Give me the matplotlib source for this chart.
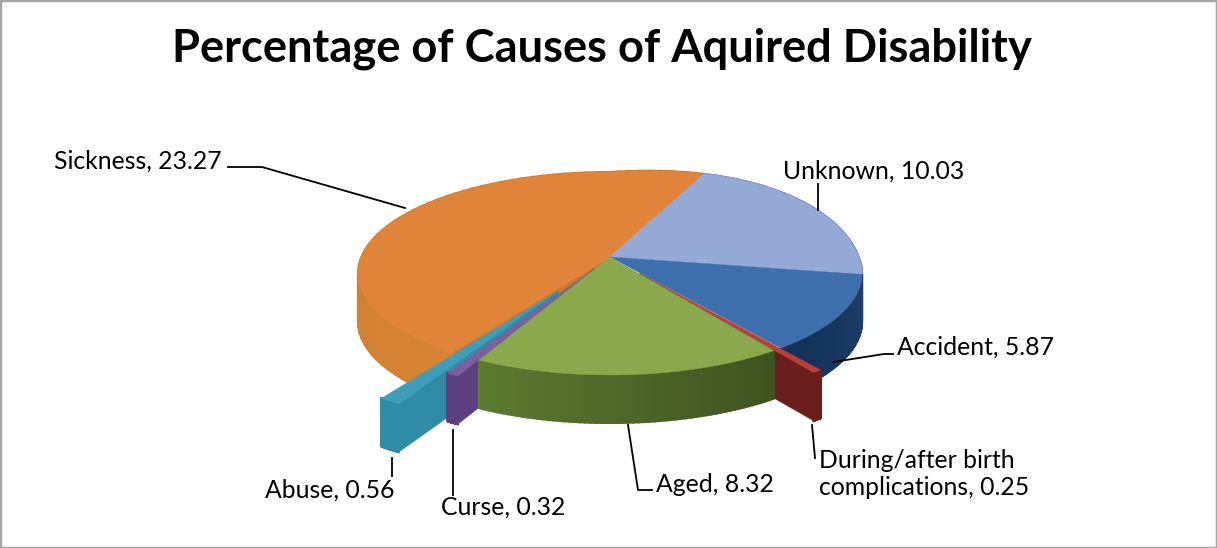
import numpy as np
import matplotlib
matplotlib.use('Agg')
import matplotlib.pyplot as plt
from matplotlib.patches import Rectangle

# datos del grafico
causas = ['Unknown', 'Accident', 'During/after birth\ncomplications', 'Aged', 'Curse', 'Abuse', 'Sickness']
valores = [10.03, 5.87, 0.25, 8.32, 0.32, 0.56, 23.27]
explode = [0, 0, 0.2, 0, 0.13, 0.38, 0]
titulo = 'Percentage of Causes of Aquired Disability'

col_top = ['#94A9D5', '#3F70AE', '#BC3E3B', '#89A94C', '#7F5EA0', '#3D9DBA', '#DF8439']
col_lado1 = ['#7C90BC', '#1F4068', '#6B1F1C', '#3F5220', '#5C3F80', '#2F8BA6', '#D68335']
col_lado2 = ['#7C90BC', '#12305A', '#6B1F1C', '#5D7A30', '#5C3F80', '#2F8BA6', '#C97A30']

# geometria del pastel en pixeles de la imagen
cx, cy = 610, 257
R, S, k = 248.7, 98.8, 0.1626
alto = 48
inicio = 64.4
giro = 14  # la parte de atras a la derecha sube un poco


def proy(u, v, dy=0):
    # circulo unitario a pantalla con perspectiva
    d = 1 + k * v
    return cx + R * u / d, cy - S * v / d + dy - giro * np.clip(u, 0, None) * np.clip(v, 0, None)


def borde(a1, a2, e, am, n=60):
    # puntos del arco del trozo, desplazado e en la direccion am
    a = np.radians(np.linspace(a1, a2, n))
    u = np.cos(a) + e * np.cos(np.radians(am))
    v = np.sin(a) + e * np.sin(np.radians(am))
    return u, v


def mezcla(c1, c2, t):
    a = np.array(matplotlib.colors.to_rgb(c1))
    b = np.array(matplotlib.colors.to_rgb(c2))
    return a + (b - a) * t


fig = plt.figure(figsize=(12.17, 5.48), dpi=100)
ax = fig.add_axes([0, 0, 1, 1])
ax.set_xlim(0, 1217)
ax.set_ylim(548, 0)
ax.axis('off')

angulos = 360 * np.array(valores) / sum(valores)
fin = inicio - np.cumsum(angulos)
ini = fin + angulos

# orden de dibujo: de atras hacia adelante
orden = [6, 0, 1, 2, 5, 4, 3]
for i in orden:
    a1, a2 = ini[i], fin[i]
    am = (a1 + a2) / 2
    e = explode[i]
    u, v = borde(a1, a2, e, am)
    u0 = e * np.cos(np.radians(am))
    v0 = e * np.sin(np.radians(am))

    # cara radial que mira al frente: trozos separados y el borde de Sickness
    if e > 0 or i == 6:
        if i == 2:
            uc, vc = u[-1], v[-1]
        else:
            uc, vc = u[0], v[0]
        x1, y1 = proy(u0, v0)
        x2, y2 = proy(uc, vc)
        ax.fill([x1, x2, x2, x1], [y1, y2, y2 + alto, y1 + alto],
                color=col_lado2[i], lw=0.5)

    # pared exterior por segmentos con degradado
    x, y = proy(u, v)
    for j in range(len(x) - 1):
        c = mezcla(col_lado1[i], col_lado2[i], j / (len(x) - 2))
        ax.fill([x[j], x[j + 1], x[j + 1], x[j]],
                [y[j], y[j + 1], y[j + 1] + alto, y[j] + alto],
                color=c, lw=1.5)

    # cara superior
    xs, ys = proy(np.r_[u0, u], np.r_[v0, v])
    ax.fill(xs, ys, color=col_top[i], lw=0.3)

# lineas guia
guias = [
    ([228, 262, 405], [167, 167, 208]),
    ([818, 818], [184, 210]),
    ([833, 884, 893], [362, 354, 354]),
    ([812, 815], [425, 458]),
    ([628, 638, 652], [425, 490, 490]),
    ([453, 453], [430, 495]),
    ([392, 392], [458, 476]),
]
for gx, gy in guias:
    ax.plot(gx, gy, color='black', lw=1.3)

# etiquetas, mismo orden que causas
pos_etq = [(783, 171, 'left'), (897, 347, 'left'), (819, 474, 'left'),
           (656, 485, 'left'), (441, 507, 'left'), (265, 490, 'left'), (54, 161, 'left')]
for nombre, val, (px, py, ha) in zip(causas, valores, pos_etq):
    ax.text(px, py, f'{nombre}, {val}', fontsize=17.8, family='Lato', ha=ha, va='center',
            color='black', linespacing=1.22)

ax.text(602, 49, titulo, fontsize=32.6, family='Lato', weight='bold', ha='center', va='center')

# marco gris de la imagen
fig.add_artist(Rectangle((0, 0), 1, 1, transform=fig.transFigure, fill=False,
                         edgecolor='#A6A6A6', lw=2.5))

fig.savefig('out.png', dpi=100)
